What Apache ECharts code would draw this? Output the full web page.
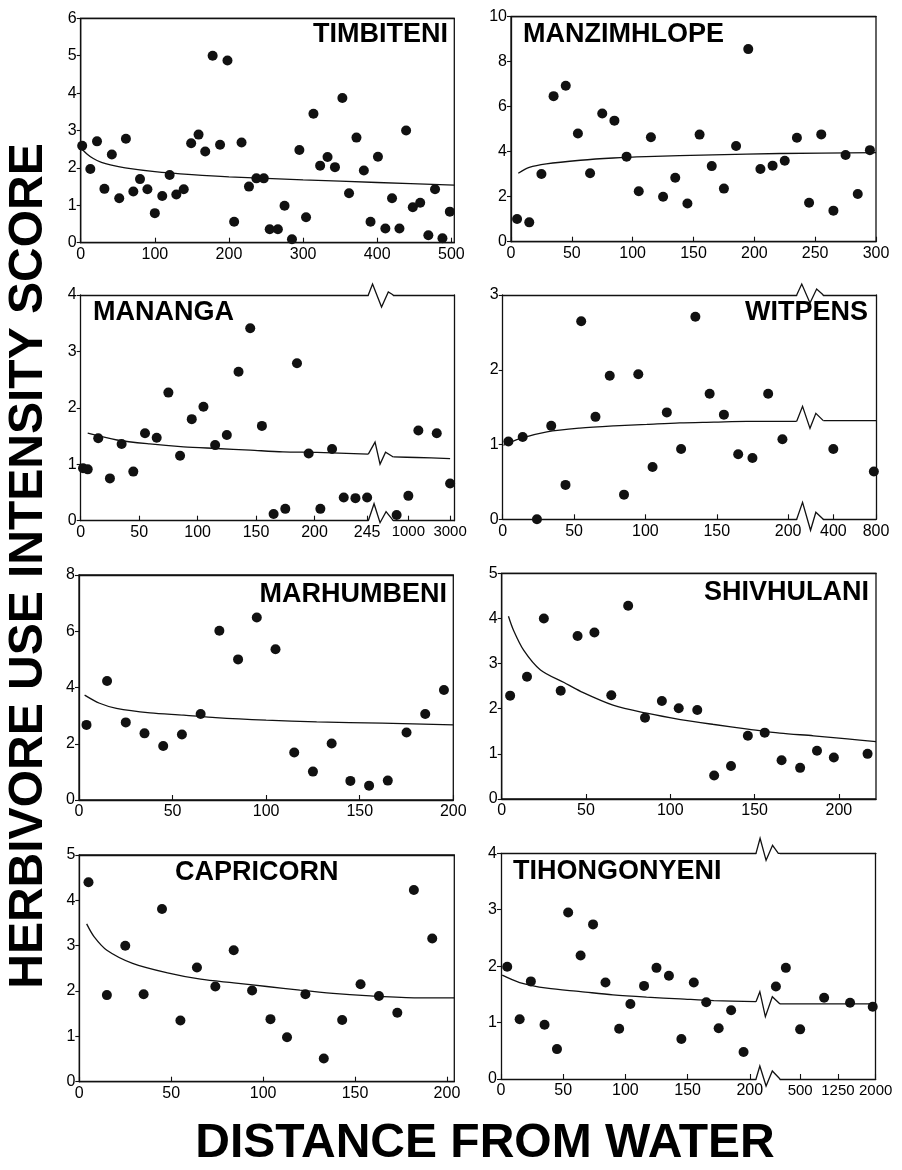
<!DOCTYPE html>
<html><head><meta charset="utf-8">
<script src="https://cdn.jsdelivr.net/npm/echarts@6.0.0/dist/echarts.min.js"></script>
<style>html,body{margin:0;padding:0;background:#fff;}#c{width:902px;height:1170px;}</style>
</head><body><div id="c"></div>
<script>
// ---------------- DATA ----------------
const panelNames = ['TIMBITENI','MANZIMHLOPE','MANANGA','WITPENS','MARHUMBENI','SHIVHULANI','CAPRICORN','TIHONGONYENI'];
const yTitle = 'HERBIVORE USE INTENSITY SCORE';
const xTitle = 'DISTANCE FROM WATER';

// TIMBITENI
const timbiteniX = [2,13,22,32,42,52,61,71,80,90,100,110,120,129,139,149,159,168,178,188,198,207,217,227,237,247,255,266,275,285,295,304,314,323,333,343,353,362,372,382,391,401,411,420,430,439,448,458,469,478,488,498];
const timbiteniY = [2.59,1.97,2.71,1.44,2.36,1.19,2.78,1.37,1.70,1.43,0.79,1.25,1.81,1.29,1.43,2.66,2.89,2.44,5.00,2.62,4.87,0.56,2.68,1.50,1.72,1.72,0.36,0.36,0.99,0.09,2.48,0.68,3.45,2.06,2.29,2.02,3.87,1.32,2.81,1.93,0.56,2.30,0.38,1.19,0.38,3.00,0.95,1.07,0.20,1.43,0.12,0.83];
const timbiteniFitX = [1,8,17,28,40,60,100,150,200,300,400,504];
const timbiteniFitY = [2.52,2.38,2.25,2.15,2.08,2.00,1.90,1.82,1.76,1.68,1.61,1.54];
const timbiteniXTicks = [0,100,200,300,400,500];
const timbiteniYTicks = [0,1,2,3,4,5,6];

// MANZIMHLOPE
const manzimhlopeX = [5,15,25,35,45,55,65,75,85,95,105,115,125,135,145,155,165,175,185,195,205,215,225,235,245,255,265,275,285,295];
const manzimhlopeY = [1.01,0.86,3.01,6.47,6.93,4.81,3.04,5.70,5.38,3.78,2.24,4.64,2.00,2.84,1.70,4.76,3.36,2.36,4.25,8.56,3.23,3.38,3.60,4.62,1.73,4.77,1.38,3.85,2.12,4.07];
const manzimhlopeFitX = [6,15,29,57,84,111,166,221,300];
const manzimhlopeFitY = [3.04,3.30,3.46,3.62,3.72,3.78,3.86,3.92,3.96];
const manzimhlopeXTicks = [0,50,100,150,200,250,300];
const manzimhlopeYTicks = [0,2,4,6,8,10];

// MANANGA (near part, then far part after the axis break)
const manangaX = [2,6,15,25,35,45,55,65,75,85,95,105,115,125,135,145,155,165,175,185,195,205,215,225,235,245];
const manangaY = [0.93,0.91,1.46,0.75,1.36,0.87,1.55,1.47,2.27,1.15,1.80,2.02,1.34,1.52,2.64,3.41,1.68,0.12,0.21,2.79,1.19,0.21,1.27,0.41,0.40,0.41];
const manangaFitX = [6,31,59,88,116,145,173,202,246];
const manangaFitY = [1.55,1.43,1.36,1.31,1.28,1.25,1.22,1.21,1.18];
const manangaFarX = [440,1000,1480,2360,3000];
const manangaFarY = [0.10,0.44,1.60,1.55,0.66];
const manangaFarFitX = [280,1400,3000];
const manangaFarFitY = [1.13,1.12,1.10];
const manangaXTicks = [0,50,100,150,200,245];
const manangaFarXTicks = [1000,3000];
const manangaYTicks = [0,1,2,3,4];

// WITPENS
const witpensX = [4,14,24,34,44,55,65,75,85,95,105,115,125,135,145,155,165,175,186,196];
const witpensY = [1.04,1.10,0.00,1.25,0.46,2.65,1.37,1.92,0.33,1.94,0.70,1.43,0.94,2.71,1.68,1.40,0.87,0.82,1.68,1.07];
const witpensFitX = [0.5,12,31,54,78,101,124,148,171,206];
const witpensFitY = [0.99,1.08,1.17,1.22,1.25,1.27,1.29,1.30,1.31,1.31];
const witpensFarX = [400,780];
const witpensFarY = [0.94,0.64];
const witpensFarFitX = [306,800];
const witpensFarFitY = [1.32,1.32];
const witpensXTicks = [0,50,100,150,200];
const witpensFarXTicks = [400,800];
const witpensYTicks = [0,1,2,3];

// MARHUMBENI
const marhumbeniX = [4,15,25,35,45,55,65,75,85,95,105,115,125,135,145,155,165,175,185,195];
const marhumbeniY = [2.67,4.23,2.76,2.37,1.92,2.33,3.06,6.02,5.00,6.49,5.36,1.69,1.01,2.01,0.68,0.51,0.69,2.40,3.06,3.91];
const marhumbeniFitX = [3,11,20,38,56,73,100,127,162,200];
const marhumbeniFitY = [3.73,3.44,3.26,3.10,3.02,2.93,2.84,2.78,2.73,2.67];
const marhumbeniXTicks = [0,50,100,150,200];
const marhumbeniYTicks = [0,2,4,6,8];

// SHIVHULANI
const shivhulaniX = [5,15,25,35,45,55,65,75,85,95,105,116,126,136,146,156,166,177,187,197,217];
const shivhulaniY = [2.29,2.71,4.00,2.40,3.61,3.69,2.30,4.28,1.80,2.17,2.01,1.97,0.52,0.73,1.40,1.47,0.86,0.69,1.07,0.92,1.00];
const shivhulaniFitX = [4,7,13,23,37,47,66,86,106,126,146,165,185,205,222];
const shivhulaniFitY = [4.05,3.74,3.30,2.86,2.58,2.38,2.08,1.90,1.76,1.65,1.55,1.46,1.40,1.33,1.27];
const shivhulaniXTicks = [0,50,100,150,200];
const shivhulaniYTicks = [0,1,2,3,4,5];

// CAPRICORN
const capricornX = [5,15,25,35,45,55,64,74,84,94,104,113,123,133,143,153,163,173,182,192];
const capricornY = [4.40,1.91,3.00,1.93,3.81,1.35,2.52,2.10,2.90,2.01,1.38,0.98,1.93,0.51,1.36,2.15,1.89,1.52,4.23,3.16];
const capricornFitX = [4,8,15,29,48,66,84,102,120,138,156,184,204];
const capricornFitY = [3.48,3.20,2.90,2.61,2.40,2.26,2.18,2.10,2.02,1.95,1.90,1.85,1.85];
const capricornXTicks = [0,50,100,150,200];
const capricornYTicks = [0,1,2,3,4,5];

// TIHONGONYENI
const tihongonyeniX = [5,15,24,35,45,54,64,74,84,95,104,115,125,135,145,155,165,175,185,195,221,229];
const tihongonyeniY = [1.99,1.06,1.73,0.96,0.53,2.95,2.19,2.74,1.71,0.89,1.33,1.65,1.97,1.83,0.71,1.71,1.36,0.90,1.22,0.48,1.64,1.97];
const tihongonyeniFitX = [1,15,37,64,90,117,144,171,205];
const tihongonyeniFitY = [1.84,1.71,1.61,1.55,1.49,1.45,1.42,1.39,1.37];
const tihongonyeniFarX = [500,976,1491,1941];
const tihongonyeniFarY = [0.88,1.44,1.35,1.28];
const tihongonyeniFarFitX = [100,2000];
const tihongonyeniFarFitY = [1.33,1.33];
const tihongonyeniXTicks = [0,50,100,150,200];
const tihongonyeniFarXTicks = [500,1250,2000];
const tihongonyeniYTicks = [0,1,2,3,4];

// ---------------- CHART ----------------
const FONT = '"Liberation Sans", Arial, Helvetica, sans-serif';
const INK = '#111';
const LW = 1.3;
const chart = echarts.init(document.getElementById('c'), null, {renderer: 'canvas'});
const grids = [], xAxes = [], yAxes = [], series = [];
const pairs = (xs, ys) => xs.map((x, i) => [x, ys[i]]);
const plain = v => String(v);

function addGrid(box, xr, yr, o) {
  const gi = grids.length;
  grids.push({left: box[0], top: box[1], width: box[2] - box[0], height: box[3] - box[1],
    show: !!o.border, borderColor: INK, borderWidth: LW, backgroundColor: 'transparent', containLabel: false});
  const line = {show: true, onZero: false, lineStyle: {color: INK, width: LW}};
  const xi = xAxes.length;
  xAxes.push({type: 'value', gridIndex: gi, position: 'bottom', min: xr[0], max: xr[1],
    axisLine: line,
    axisTick: {show: true, inside: true, length: 5, customValues: o.xTicks, lineStyle: {color: INK, width: 1.1}},
    axisLabel: {show: true, customValues: o.xTicks, formatter: plain, margin: 4, fontSize: o.xFont || 16, color: '#000', fontFamily: FONT},
    splitLine: {show: false}});
  xAxes.push({type: 'value', gridIndex: gi, position: 'top', min: xr[0], max: xr[1],
    axisLine: line, axisTick: {show: false}, axisLabel: {show: false}, splitLine: {show: false}});
  const yi = yAxes.length;
  const labels = o.yPos !== 'right';
  yAxes.push({type: 'value', gridIndex: gi, position: o.yPos || 'left', min: yr[0], max: yr[1],
    axisLine: line,
    axisTick: {show: labels, inside: false, length: 4, customValues: o.yTicks, lineStyle: {color: INK, width: 1.1}},
    axisLabel: {show: labels, customValues: o.yTicks, formatter: plain, margin: 4, fontSize: 16, color: '#000', fontFamily: FONT},
    splitLine: {show: false}});
  return {gi, xi, yi};
}
function addData(ax, xs, ys, fx, fy) {
  series.push({type: 'scatter', xAxisIndex: ax.xi, yAxisIndex: ax.yi, data: pairs(xs, ys),
    symbol: 'circle', symbolSize: 10, itemStyle: {color: INK, opacity: 1}, clip: false, silent: true});
  series.push({type: 'line', xAxisIndex: ax.xi, yAxisIndex: ax.yi, data: pairs(fx, fy),
    showSymbol: false, symbol: 'none', smooth: 0.3, lineStyle: {color: INK, width: LW}, clip: false, silent: true});
}

const p1 = addGrid([80.7, 18.3, 454.3, 242.7], [0, 504], [0, 6], {border: true, xTicks: timbiteniXTicks, yTicks: timbiteniYTicks});
addData(p1, timbiteniX, timbiteniY, timbiteniFitX, timbiteniFitY);
const p2 = addGrid([511, 16.7, 876, 241.7], [0, 300], [0, 10], {border: true, xTicks: manzimhlopeXTicks, yTicks: manzimhlopeYTicks});
addData(p2, manzimhlopeX, manzimhlopeY, manzimhlopeFitX, manzimhlopeFitY);
const p3L = addGrid([80.7, 295, 368.3, 520.7], [0, 246], [0, 4], {xTicks: manangaXTicks, yTicks: manangaYTicks});
addData(p3L, manangaX, manangaY, manangaFitX, manangaFitY);
const p3R = addGrid([393.3, 295, 454.3, 520.7], [280, 3200], [0, 4], {xTicks: manangaFarXTicks, yTicks: manangaYTicks, yPos: 'right', xFont: 15});
addData(p3R, manangaFarX, manangaFarY, manangaFarFitX, manangaFarFitY);
const p4L = addGrid([502.7, 295, 796.7, 519.3], [0, 206], [0, 3], {xTicks: witpensXTicks, yTicks: witpensYTicks});
addData(p4L, witpensX, witpensY, witpensFitX, witpensFitY);
const p4R = addGrid([823.3, 295, 876, 519.3], [306, 800], [0, 3], {xTicks: witpensFarXTicks, yTicks: witpensYTicks, yPos: 'right'});
addData(p4R, witpensFarX, witpensFarY, witpensFarFitX, witpensFarFitY);
const p5 = addGrid([79, 575, 453.3, 800], [0, 200], [0, 8], {border: true, xTicks: marhumbeniXTicks, yTicks: marhumbeniYTicks});
addData(p5, marhumbeniX, marhumbeniY, marhumbeniFitX, marhumbeniFitY);
const p6 = addGrid([501.7, 573.3, 876, 799], [0, 222], [0, 5], {border: true, xTicks: shivhulaniXTicks, yTicks: shivhulaniYTicks});
addData(p6, shivhulaniX, shivhulaniY, shivhulaniFitX, shivhulaniFitY);
const p7 = addGrid([79.3, 855, 454.3, 1081.7], [0, 204], [0, 5], {border: true, xTicks: capricornXTicks, yTicks: capricornYTicks});
addData(p7, capricornX, capricornY, capricornFitX, capricornFitY);
const p8L = addGrid([501, 853.3, 756, 1079], [0, 205], [0, 4], {xTicks: tihongonyeniXTicks, yTicks: tihongonyeniYTicks});
addData(p8L, tihongonyeniX, tihongonyeniY, tihongonyeniFitX, tihongonyeniFitY);
const p8R = addGrid([780, 853.3, 875.7, 1079], [100, 2000], [0, 4], {xTicks: tihongonyeniFarXTicks, yTicks: tihongonyeniYTicks, yPos: 'right', xFont: 15});
addData(p8R, tihongonyeniFarX, tihongonyeniFarY, tihongonyeniFarFitX, tihongonyeniFarFitY);

chart.setOption({animation: false, backgroundColor: '#fff', grid: grids, xAxis: xAxes, yAxis: yAxes, series: series});

// ---------------- decorations: axis-break zigzags and texts ----------------
const gfx = [];
function zig(x0, x1, y0, y1, fr, off) {
  const n = fr.length - 1;
  return fr.map((f, i) => [x0 + f * (x1 - x0), i === n ? y1 : y0 + off[i]]);
}
function poly(points) {
  gfx.push({type: 'polyline', silent: true, z: 50, shape: {points: points},
    style: {stroke: INK, lineWidth: LW, fill: null, lineJoin: 'miter'}});
}
function breaks(L, R, gl, gr, fitL, fitR, spec) {
  const x0 = gl.left + gl.width, x1 = gr.left;
  const top = gl.top, bot = gl.top + gl.height;
  poly(zig(x0, x1, top, top, spec.top[0], spec.top[1]));
  poly(zig(x0, x1, bot, bot, spec.bot[0], spec.bot[1]));
  const a = chart.convertToPixel({gridIndex: L.gi}, fitL);
  const b = chart.convertToPixel({gridIndex: R.gi}, fitR);
  poly(zig(a[0], b[0], a[1], b[1], spec.fit[0], spec.fit[1]));
}
breaks(p3L, p3R, grids[p3L.gi], grids[p3R.gi],
  [manangaFitX[manangaFitX.length - 1], manangaFitY[manangaFitY.length - 1]], [manangaFarFitX[0], manangaFarFitY[0]],
  {top: [[0, .17, .53, .8, 1], [0, -11, 12, -3, 0]], bot: [[0, .23, .47, .71, 1], [0, -17, 2, -9, 0]], fit: [[0, .27, .47, .69, 1], [0, -12, 10, -2, 0]]});
breaks(p4L, p4R, grids[p4L.gi], grids[p4R.gi],
  [witpensFitX[witpensFitX.length - 1], witpensFitY[witpensFitY.length - 1]], [witpensFarFitX[0], witpensFarFitY[0]],
  {top: [[0, .19, .5, .75, 1], [0, -11, 8, -6, 0]], bot: [[0, .22, .52, .72, 1], [0, -17, 11, -7, 0]], fit: [[0, .22, .5, .72, 1], [0, -15, 7, -8, 0]]});
breaks(p8L, p8R, grids[p8L.gi], grids[p8R.gi],
  [tihongonyeniFitX[tihongonyeniFitX.length - 1], tihongonyeniFitY[tihongonyeniFitY.length - 1]], [tihongonyeniFarFitX[0], tihongonyeniFarFitY[0]],
  {top: [[0, .17, .42, .69, .93, 1], [0, -15, 7, -8, 0, 0]], bot: [[0, .16, .42, .68, 1], [0, -13, 7, -8, 0]], fit: [[0, .16, .39, .68, 1], [0, -10, 15, -5, 0]]});

// panel names
const namePos = [
  {x: 448, y: 21, align: 'right'}, {x: 523, y: 21, align: 'left'},
  {x: 93, y: 299, align: 'left'}, {x: 868, y: 299, align: 'right'},
  {x: 447, y: 581, align: 'right'}, {x: 869, y: 579, align: 'right'},
  {x: 175, y: 859, align: 'left'}, {x: 513, y: 858, align: 'left'}
];
panelNames.forEach((t, i) => {
  gfx.push({type: 'text', silent: true, z: 60, x: namePos[i].x, y: namePos[i].y,
    style: {text: t, fill: '#000', font: 'bold 27px ' + FONT, textAlign: namePos[i].align, textVerticalAlign: 'top'}});
});
gfx.push({type: 'text', silent: true, z: 60, x: 29, y: 566, rotation: Math.PI / 2,
  style: {text: yTitle, fill: '#000', font: 'bold 48px ' + FONT, textAlign: 'center', textVerticalAlign: 'middle'}});
gfx.push({type: 'text', silent: true, z: 60, x: 485, y: 1144,
  style: {text: xTitle, fill: '#000', font: 'bold 48px ' + FONT, textAlign: 'center', textVerticalAlign: 'middle'}});

chart.setOption({graphic: {elements: gfx}});
</script>
</body></html>
